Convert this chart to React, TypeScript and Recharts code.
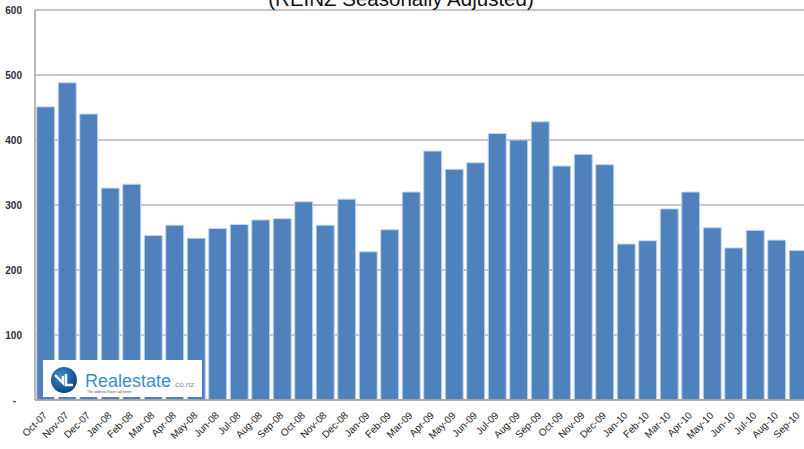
import { BarChart, Bar, XAxis, YAxis, CartesianGrid } from 'recharts';

const months = [
  'Oct-07', 'Nov-07', 'Dec-07', 'Jan-08', 'Feb-08', 'Mar-08', 'Apr-08', 'May-08', 'Jun-08',
  'Jul-08', 'Aug-08', 'Sep-08', 'Oct-08', 'Nov-08', 'Dec-08', 'Jan-09', 'Feb-09', 'Mar-09',
  'Apr-09', 'May-09', 'Jun-09', 'Jul-09', 'Aug-09', 'Sep-09', 'Oct-09', 'Nov-09', 'Dec-09',
  'Jan-10', 'Feb-10', 'Mar-10', 'Apr-10', 'May-10', 'Jun-10', 'Jul-10', 'Aug-10', 'Sep-10',
];

const values = [
  451, 488, 440, 326, 332, 253, 269, 249, 264,
  270, 277, 279, 305, 269, 309, 228, 262, 320,
  383, 355, 365, 410, 400, 428, 360, 378, 362,
  240, 245, 294, 320, 265, 234, 261, 246, 230,
];

const yTicks = [0, 100, 200, 300, 400, 500, 600];
const title = '(REINZ Seasonally Adjusted)';

const chartData = months.map((month, i) => ({ month, value: values[i] }));

// y labels right-aligned at x=22, the "-" for zero a little further left
function YTick({ y, payload }: any) {
  const isZero = payload.value === 0;
  return (
    <text
      x={isZero ? 16 : 22}
      y={y}
      dy={4}
      textAnchor="end"
      fontSize={10}
      fontWeight="bold"
      fill="#2e2e40"
      fontFamily="'Liberation Sans', Arial, sans-serif"
    >
      {isZero ? '-' : String(payload.value)}
    </text>
  );
}

function XTick({ x, y, payload }: any) {
  return (
    <text
      x={x + 2}
      y={y + 8}
      textAnchor="end"
      fontSize={10}
      fill="#222"
      fontFamily="'Liberation Sans', Arial, sans-serif"
      transform={`rotate(-45, ${x + 2}, ${y + 8})`}
    >
      {payload.value}
    </text>
  );
}

function Logo() {
  return (
    <g>
      <rect x={43} y={360} width={159} height={37} fill="#ffffff" />
      <defs>
        <radialGradient id="logoBall" cx="40%" cy="35%" r="70%">
          <stop offset="0%" stopColor="#3d8fd0" />
          <stop offset="100%" stopColor="#0b3f78" />
        </radialGradient>
      </defs>
      <circle cx={64} cy={380} r={13} fill="url(#logoBall)" />
      <path
        d="M55 375 L63 383 L63 376 M66 374 L66 385 L73 385"
        stroke="#ffffff"
        strokeWidth={2.4}
        fill="none"
      />
      <text
        x={85}
        y={387}
        fontSize={18}
        fill="#3a8fc8"
        textLength={86}
        lengthAdjust="spacingAndGlyphs"
        fontFamily="'Liberation Sans', Arial, sans-serif"
      >
        Realestate
      </text>
      <text
        x={173}
        y={387}
        fontSize={8}
        fill="#8a8a8a"
        fontFamily="'Liberation Sans', Arial, sans-serif"
      >
        .co.nz
      </text>
      <text
        x={87}
        y={393}
        fontSize={3.5}
        fill="#555"
        fontFamily="'Liberation Sans', Arial, sans-serif"
      >
        The address Kiwis call home
      </text>
    </g>
  );
}

export default function App() {
  return (
    <div
      style={{
        position: 'fixed',
        left: 0,
        top: 0,
        width: 804,
        height: 449,
        overflow: 'hidden',
        background: '#ffffff',
      }}
    >
      <BarChart
        width={820}
        height={449}
        data={chartData}
        margin={{ top: 10, right: 11, left: 0, bottom: 0 }}
        barCategoryGap="8%"
      >
        <CartesianGrid vertical={false} stroke="#8c8c8c" />
        <XAxis
          dataKey="month"
          interval={0}
          height={49}
          tickLine={false}
          axisLine={{ stroke: '#a0a0a0', strokeWidth: 1.5 }}
          tick={<XTick />}
        />
        <YAxis
          domain={[0, 600]}
          ticks={yTicks}
          width={35}
          tickLine={false}
          axisLine={{ stroke: '#a0a0a0', strokeWidth: 1.5 }}
          tick={<YTick />}
        />
        <Bar
          dataKey="value"
          fill="#4f81bd"
          stroke="#c5d6ec"
          strokeWidth={1}
          isAnimationActive={false}
        />
      </BarChart>
      <svg
        width={804}
        height={449}
        style={{ position: 'absolute', left: 0, top: 0, pointerEvents: 'none' }}
      >
        <text
          x={401}
          y={6}
          textAnchor="middle"
          fontSize={20.5}
          fill="#111"
          fontFamily="'Liberation Sans', Arial, sans-serif"
        >
          {title}
        </text>
        <Logo />
      </svg>
    </div>
  );
}
